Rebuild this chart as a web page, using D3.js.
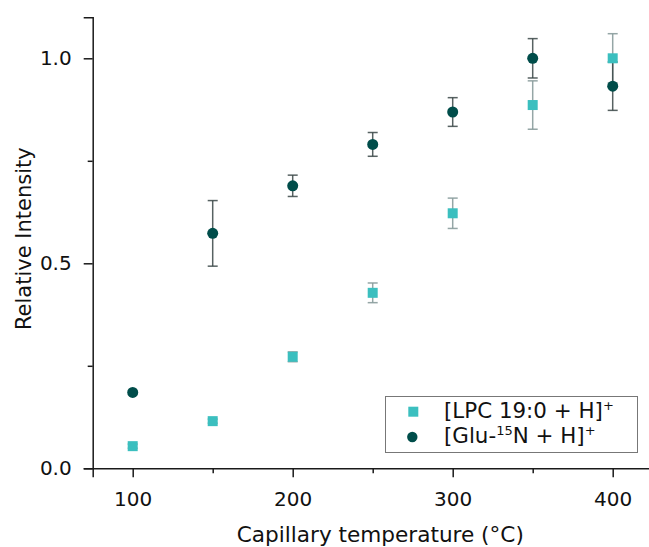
<!DOCTYPE html>
<html>
<head>
<meta charset="utf-8">
<script src="https://cdn.jsdelivr.net/npm/d3@7"></script>
<style>
  body { margin: 0; background: #fff; }
  svg { display: block; font-family: 'DejaVu Sans', Verdana, sans-serif; }
</style>
</head>
<body>
<svg id="chart" width="649" height="547"></svg>
<script>
const temps = [100, 150, 200, 250, 300, 350, 400];
const lpcValues = [0.054, 0.115, 0.272, 0.428, 0.622, 0.886, 1.0];
const lpcErrors = [0.005, 0.005, 0.012, 0.024, 0.037, 0.059, 0.06];
const gluValues = [0.185, 0.573, 0.689, 0.79, 0.869, 1.0, 0.932];
const gluErrors = [0.0, 0.08, 0.026, 0.029, 0.035, 0.048, 0.059];
const xTicks = [100, 200, 300, 400];
const xMinorTicks = [150, 250, 350];
const yTicks = [0, 0.5, 1.0];
const yMinorTicks = [0.25, 0.75];

const LPC_COLOR = '#3bbfbf';
const GLU_COLOR = '#004d4a';

const svg = d3.select('#chart');
const x = d3.scaleLinear().domain([75, 425]).range([92.7, 652.7]);
const y = d3.scaleLinear().domain([0, 1.1]).range([468.3, 17.3]);

// axes
const xAxis = svg.append('g').attr('transform', `translate(0,${y(0)})`);
xAxis.call(d3.axisBottom(x).tickValues(xTicks).tickSize(9).tickPadding(15).tickFormat(d3.format('d')));
xAxis.append('g').call(d3.axisBottom(x).tickValues(xMinorTicks).tickSize(5).tickFormat(''))
  .select('.domain').remove();

const yAxis = svg.append('g').attr('transform', `translate(${x(75)},0)`);
yAxis.call(d3.axisLeft(y).tickValues(yTicks).tickSize(9).tickPadding(12).tickFormat(d3.format('.1f')));
yAxis.append('g').call(d3.axisLeft(y).tickValues(yMinorTicks).tickSize(5).tickFormat(''))
  .select('.domain').remove();

svg.selectAll('.domain').attr('stroke', '#1a1a1a').attr('stroke-width', 1.5);
svg.selectAll('.tick line').attr('stroke', '#1a1a1a').attr('stroke-width', 1.5);
svg.selectAll('.tick text')
  .attr('font-family', "'DejaVu Sans', Verdana, sans-serif")
  .attr('font-size', 20)
  .attr('fill', '#111');

// axis titles
svg.append('text')
  .attr('transform', 'translate(31,238.7) rotate(-90)')
  .attr('text-anchor', 'middle')
  .attr('font-size', 21)
  .attr('fill', '#111')
  .text('Relative Intensity');

svg.append('text')
  .attr('x', 380.3)
  .attr('y', 541.5)
  .attr('text-anchor', 'middle')
  .attr('font-size', 21.6)
  .attr('fill', '#111')
  .text('Capillary temperature (°C)');

// error bars
function drawErrors(values, errors, color, opacity) {
  const data = temps.map((t, i) => ({ t, v: values[i], e: errors[i] })).filter((d) => d.e > 0);
  const g = svg.append('g')
    .attr('stroke', color)
    .attr('stroke-opacity', opacity)
    .attr('stroke-width', 1.5)
    .attr('fill', 'none');
  g.selectAll('line.v').data(data).join('line')
    .attr('class', 'v')
    .attr('x1', (d) => x(d.t)).attr('x2', (d) => x(d.t))
    .attr('y1', (d) => y(d.v + d.e)).attr('y2', (d) => y(d.v - d.e));
  g.selectAll('line.top').data(data).join('line')
    .attr('class', 'top')
    .attr('x1', (d) => x(d.t) - 5).attr('x2', (d) => x(d.t) + 5)
    .attr('y1', (d) => y(d.v + d.e)).attr('y2', (d) => y(d.v + d.e));
  g.selectAll('line.bot').data(data).join('line')
    .attr('class', 'bot')
    .attr('x1', (d) => x(d.t) - 5).attr('x2', (d) => x(d.t) + 5)
    .attr('y1', (d) => y(d.v - d.e)).attr('y2', (d) => y(d.v - d.e));
}

drawErrors(lpcValues, lpcErrors, '#8a9c9c', 0.9);
drawErrors(gluValues, gluErrors, '#3a4646', 0.85);

// markers
svg.append('g')
  .selectAll('rect')
  .data(temps.map((t, i) => ({ t, v: lpcValues[i] })))
  .join('rect')
  .attr('x', (d) => x(d.t) - 5)
  .attr('y', (d) => y(d.v) - 5)
  .attr('width', 10)
  .attr('height', 10)
  .attr('fill', LPC_COLOR);

svg.append('g')
  .selectAll('circle')
  .data(temps.map((t, i) => ({ t, v: gluValues[i] })))
  .join('circle')
  .attr('cx', (d) => x(d.t))
  .attr('cy', (d) => y(d.v))
  .attr('r', 5.5)
  .attr('fill', GLU_COLOR);

// legend
const legend = svg.append('g');
legend.append('rect')
  .attr('x', 385.5).attr('y', 396.5)
  .attr('width', 252).attr('height', 56)
  .attr('fill', '#fff')
  .attr('stroke', '#777')
  .attr('stroke-width', 1);

legend.append('rect')
  .attr('x', 408.3).attr('y', 406.7)
  .attr('width', 10).attr('height', 10)
  .attr('fill', LPC_COLOR);
legend.append('circle')
  .attr('cx', 412.3).attr('cy', 437)
  .attr('r', 5.2)
  .attr('fill', GLU_COLOR);

const t1 = legend.append('text')
  .attr('x', 444).attr('y', 417.5)
  .attr('font-size', 21.4)
  .attr('fill', '#111');
t1.append('tspan').text('[LPC 19:0 + H]');
t1.append('tspan').attr('dy', -8).attr('font-size', 13).text('+');

const t2 = legend.append('text')
  .attr('x', 444).attr('y', 442.5)
  .attr('font-size', 21.4)
  .attr('fill', '#111');
t2.append('tspan').text('[Glu-');
t2.append('tspan').attr('dy', -8).attr('font-size', 13).text('15');
t2.append('tspan').attr('dy', 8).text('N + H]');
t2.append('tspan').attr('dy', -8).attr('font-size', 13).text('+');
</script>
</body>
</html>
